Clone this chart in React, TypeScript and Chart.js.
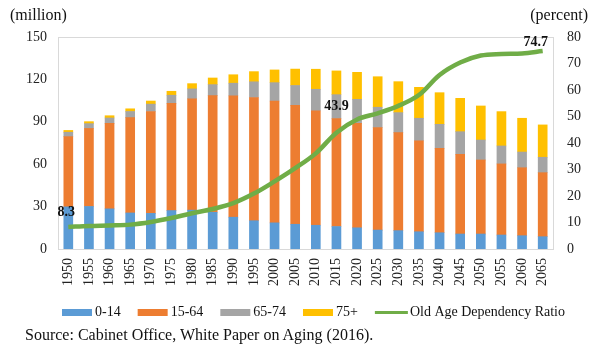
import React, { useEffect, useRef } from 'react';
import { Chart, registerables } from 'chart.js';

Chart.register(...registerables);

const FONT = '"Liberation Serif", "Times New Roman", Times, serif';

const years = ['1950', '1955', '1960', '1965', '1970', '1975', '1980', '1985', '1990', '1995', '2000', '2005', '2010', '2015', '2020', '2025', '2030', '2035', '2040', '2045', '2050', '2055', '2060', '2065'];

const age0to14 = [29.8, 30.1, 28.4, 25.5, 25.2, 27.2, 27.5, 26.0, 22.5, 20.0, 18.5, 17.5, 16.8, 15.9, 15.0, 13.4, 13.0, 12.2, 11.5, 10.6, 10.6, 9.9, 9.4, 8.7];
const age15to64 = [49.7, 55.2, 60.5, 67.4, 72.1, 75.8, 78.8, 82.5, 85.9, 87.2, 86.2, 84.1, 81.0, 76.4, 73.9, 72.5, 69.3, 64.4, 59.7, 56.4, 52.4, 50.3, 48.1, 45.3];
const age65to74 = [3.1, 3.4, 3.8, 4.4, 5.2, 5.8, 7.0, 7.8, 8.9, 11.1, 13.0, 14.1, 15.2, 16.9, 17.0, 14.4, 14.2, 15.9, 17.0, 16.0, 14.1, 12.7, 11.1, 10.9];
const age75plus = [1.3, 1.4, 1.6, 1.9, 2.2, 2.8, 3.7, 4.7, 6.0, 7.2, 9.0, 11.6, 14.2, 16.8, 19.1, 21.6, 21.9, 21.9, 22.4, 23.6, 24.1, 24.3, 23.9, 22.9];
const oldAgeRatio = [8.3, 8.7, 8.9, 9.2, 10.2, 11.7, 13.5, 15.1, 17.3, 20.9, 25.5, 30.5, 36.1, 43.9, 48.9, 51.2, 54.0, 58.1, 65.7, 70.4, 73.0, 73.6, 73.8, 74.7];

const leftTicks = { min: 0, max: 150, step: 30 };
const rightTicks = { min: 0, max: 80, step: 10 };
const labelledPoints = [0, 13, 23];

const seriesNames = ['0-14', '15-64', '65-74', '75+', 'Old Age Dependency Ratio'];
const colors = ['#5B9BD5', '#ED7D31', '#A5A5A5', '#FFC000', '#70AD47'];

export default function App() {
  const ref = useRef<HTMLCanvasElement>(null);

  useEffect(() => {
    const canvas = ref.current;
    if (!canvas) return;

    const borderPlugin = {
      id: 'plotBorder',
      beforeDatasetsDraw(chart: any) {
        const { ctx, chartArea: a } = chart;
        ctx.save();
        ctx.strokeStyle = '#d9d9d9';
        ctx.lineWidth = 1;
        ctx.strokeRect(Math.round(a.left) + 0.5, Math.round(a.top) + 0.5, Math.round(a.right - a.left), Math.round(a.bottom - a.top));
        ctx.restore();
      },
    };

    const labelOffsets: Record<number, [number, number]> = { 0: [-2, -15], 13: [0, -26], 23: [-7, -9] };
    const dataLabelPlugin = {
      id: 'lineLabels',
      afterDatasetsDraw(chart: any) {
        const { ctx } = chart;
        const idx = chart.data.datasets.length - 1;
        const meta = chart.getDatasetMeta(idx);
        const data = chart.data.datasets[idx].data as number[];
        ctx.save();
        ctx.font = `bold 14px ${FONT}`;
        ctx.fillStyle = '#111';
        ctx.textAlign = 'center';
        ctx.textBaseline = 'middle';
        labelledPoints.forEach((i) => {
          const p = meta.data[i];
          const off = labelOffsets[i] || [0, -12];
          ctx.fillText(data[i].toFixed(1), p.x + off[0], p.y + off[1]);
        });
        ctx.restore();
      },
    };

    const legendPlugin = {
      id: 'customLegend',
      afterDraw(chart: any) {
        const { ctx } = chart;
        ctx.save();
        ctx.font = `14px ${FONT}`;
        ctx.textBaseline = 'middle';
        ctx.fillStyle = '#111';
        let x = 62;
        const cy = 312.5;
        chart.data.datasets.forEach((ds: any) => {
          if (ds.type === 'line') {
            ctx.strokeStyle = ds.borderColor;
            ctx.lineWidth = 3;
            ctx.beginPath();
            ctx.moveTo(x, cy);
            ctx.lineTo(x + 33, cy);
            ctx.stroke();
            x += 35;
          } else {
            ctx.fillStyle = ds.backgroundColor;
            ctx.fillRect(x, cy - 3.5, 30, 7);
            x += 33;
          }
          ctx.fillStyle = '#111';
          ctx.textAlign = 'left';
          ctx.fillText(ds.label, x, cy);
          x += ctx.measureText(ds.label).width + 17;
        });
        ctx.restore();
      },
    };

    const barSets = [age0to14, age15to64, age65to74, age75plus].map((d, i) => ({
      type: 'bar' as const,
      label: seriesNames[i],
      data: d,
      backgroundColor: colors[i],
      borderWidth: 0,
      barThickness: 9,
      yAxisID: 'y',
      stack: 'pop',
      order: 1,
    }));

    const tickFont = { family: FONT, size: 14 };

    const chart = new Chart(canvas, {
      type: 'bar',
      data: {
        labels: years,
        datasets: [
          ...barSets,
          {
            type: 'line' as const,
            label: seriesNames[4],
            data: oldAgeRatio,
            borderColor: colors[4],
            backgroundColor: colors[4],
            borderWidth: 4.5,
            pointRadius: 0,
            tension: 0.35,
            yAxisID: 'y1',
            order: 0,
          } as any,
        ],
      },
      options: {
        responsive: false,
        animation: false,
        devicePixelRatio: 1,
        layout: { padding: { top: 37, bottom: 45, left: 0, right: 0 } },
        plugins: {
          legend: { display: false },
          tooltip: { enabled: false },
          title: { display: false },
        },
        scales: {
          x: {
            stacked: true,
            grid: { display: false, drawTicks: false },
            border: { display: false },
            ticks: { minRotation: 90, maxRotation: 90, autoSkip: false, padding: 9, color: '#222', font: tickFont },
            afterFit: (s: any) => { s.height = 60; },
          },
          y: {
            stacked: true,
            position: 'left',
            min: leftTicks.min,
            max: leftTicks.max,
            grid: { display: false, drawTicks: false },
            border: { display: false },
            ticks: { stepSize: leftTicks.step, padding: 11, color: '#222', font: tickFont },
            afterFit: (s: any) => { s.width = 58; },
          },
          y1: {
            position: 'right',
            min: rightTicks.min,
            max: rightTicks.max,
            grid: { display: false, drawTicks: false },
            border: { display: false },
            ticks: { stepSize: rightTicks.step, padding: 14, color: '#222', font: tickFont },
            afterFit: (s: any) => { s.width = 37; },
          },
        },
      } as any,
      plugins: [borderPlugin, dataLabelPlugin, legendPlugin],
    });

    return () => chart.destroy();
  }, []);

  const textStyle: React.CSSProperties = {
    position: 'absolute',
    fontFamily: FONT,
    fontSize: 16,
    lineHeight: '16px',
    color: '#111',
    whiteSpace: 'nowrap',
  };

  return (
    <div style={{ position: 'absolute', left: 0, top: 0, width: 590, height: 354, background: '#fff', overflow: 'hidden' }}>
      <canvas ref={ref} width={590} height={354} style={{ display: 'block', width: 590, height: 354 }} />
      <div style={{ ...textStyle, left: 10, top: 7 }}>(million)</div>
      <div style={{ ...textStyle, right: 2, top: 7 }}>(percent)</div>
      <div style={{ ...textStyle, left: 25, top: 327 }}>Source: Cabinet Office, White Paper on Aging (2016).</div>
    </div>
  );
}
